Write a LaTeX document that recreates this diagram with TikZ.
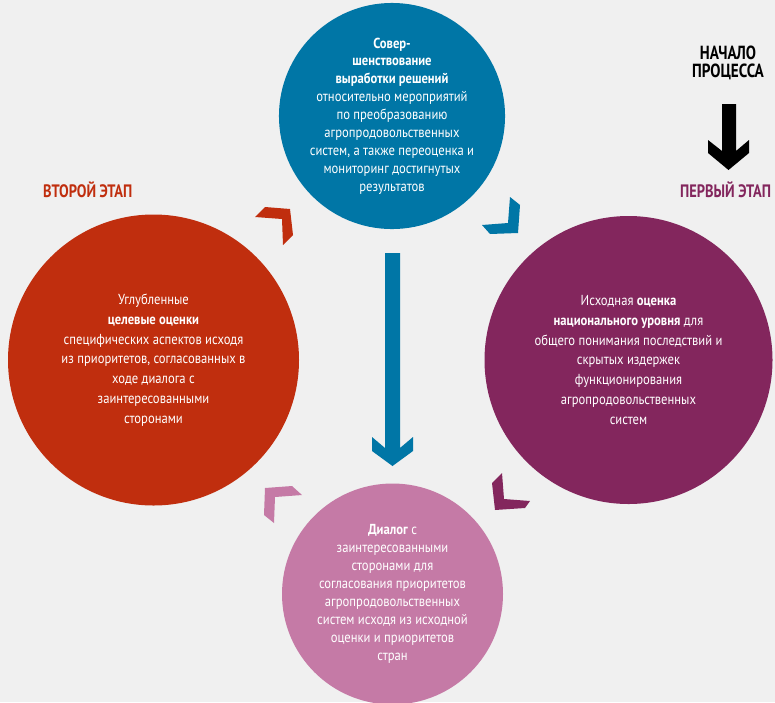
\documentclass[tikz,border=0pt]{standalone}
\usepackage{fontspec}
\setmainfont[FakeStretch=0.87]{PT Sans}
\newfontfamily\headfont[FakeStretch=0.8]{PT Sans}
\definecolor{bgc}{RGB}{240,240,240}
\definecolor{cblue}{RGB}{0,118,166}
\definecolor{cred}{RGB}{192,46,14}
\definecolor{cpurple}{RGB}{131,38,93}
\definecolor{cpink}{RGB}{197,122,166}
\tikzset{
  stage/.style={circle, inner sep=0pt, text=white, align=center},
  tight/.style={font=\fontsize{14.5}{17.9}\selectfont},
  loose/.style={font=\fontsize{14.5}{19.8}\selectfont},
  head/.style={font=\headfont\bfseries\fontsize{18}{18}\selectfont, inner sep=0pt, align=center},
}
\begin{document}
\begin{tikzpicture}[x=1pt,y=-1pt]
\useasboundingbox (0,0) rectangle (775,702);
\clip (0,0) rectangle (775,702);
\fill[bgc] (0,0) rectangle (775,702);

% circles
\node[stage, tight, fill=cblue, minimum size=222pt] (blue) at (392,116)
 {\textbf{Совер-}\\ \textbf{шенствование}\\ \textbf{выработки решений}\\ относительно мероприятий\\ по преобразованию\\ агропродовольственных\\ систем, а также переоценка и\\ мониторинг достигнутых\\ результатов};
\node[stage, loose, fill=cpurple, minimum size=288pt] (purple) at (628.5,360)
 {Исходная \textbf{оценка}\\ \textbf{национального уровня} для\\ общего понимания последствий и\\ скрытых издержек\\ функционирования\\ агропродовольственных\\ систем};
\node[stage, loose, fill=cred, minimum size=291pt] (red) at (153.5,360)
 {Углубленные\\ \textbf{целевые оценки}\\ специфических аспектов исходя\\ из приоритетов, согласованных в\\ ходе диалога с\\ заинтересованными\\ сторонами};
\node[stage, tight, fill=cpink, minimum size=221pt] (pink) at (392.5,594)
 {\textbf{Диалог} с\\ заинтересованными\\ сторонами для\\ согласования приоритетов\\ агропродовольственных\\ систем исходя из исходной\\ оценки и приоритетов\\ стран};

% labels
\node[head, text=black, font=\headfont\bfseries\fontsize{19}{17.5}\selectfont] (start) at (728,63) {НАЧАЛО\\ПРОЦЕССА};
\node[head, text=cpurple, anchor=west] (first) at (680,190) {ПЕРВЫЙ ЭТАП};
\node[head, text=cred, anchor=west] (second) at (43,190) {ВТОРОЙ ЭТАП};

% start arrow
\fill[black] (722,104) -- (736,104) -- (736,151) -- (749,140) -- (749,153)
  -- (728.5,170) -- (708,153) -- (708,140) -- (722,151) -- cycle;

% central arrow (blue -> pink)
\fill[cblue] (385,253) -- (400,253) -- (400,448) -- (413,437) -- (413,451)
  -- (392.5,466) -- (372,451) -- (372,437) -- (385,448) -- cycle;

% chevrons
\fill[cred] (255,217) -- (265,207) -- (290,209) -- (293,235) -- (283,245) -- (282,219) -- cycle;
\fill[cblue] (510,197) -- (520,205) -- (518,233) -- (490,234) -- (482,225) -- (508,223) -- cycle;
\fill[cpurple] (502,473) -- (492,483) -- (495,510) -- (525,508) -- (530,501) -- (504,499) -- cycle;
\fill[cpink] (265,488) -- (292,486) -- (302,495) -- (275,497) -- (274,523) -- (264,515) -- cycle;
\end{tikzpicture}
\end{document}
